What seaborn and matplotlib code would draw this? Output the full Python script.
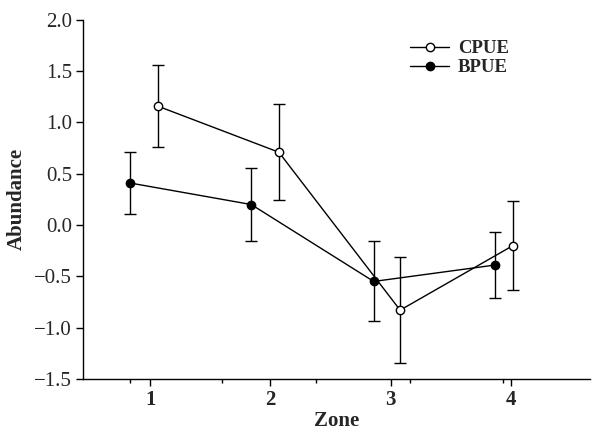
import numpy as np
import pandas as pd
import seaborn as sns
import matplotlib.pyplot as plt
from matplotlib.ticker import FixedLocator

# data
zones = [1, 2, 3, 4]
cpue_x = [1.06, 2.07, 3.08, 4.02]
cpue = [1.16, 0.71, -0.83, -0.20]
cpue_err = [0.40, 0.47, 0.52, 0.43]
bpue_x = [0.83, 1.84, 2.86, 3.87]
bpue = [0.41, 0.20, -0.55, -0.39]
bpue_err = [0.30, 0.355, 0.39, 0.32]

sns.set_style("ticks")
plt.rcParams['font.family'] = ['Liberation Serif', 'DejaVu Serif']

fig = plt.figure(figsize=(5.94, 4.33), dpi=100)
ax = fig.add_axes([0.140, 0.125, 0.853, 0.829])

df_c = pd.DataFrame({'x': cpue_x, 'y': cpue})
df_b = pd.DataFrame({'x': bpue_x, 'y': bpue})

ax.errorbar(cpue_x, cpue, yerr=cpue_err, fmt='none', ecolor='black',
            elinewidth=1.0, capsize=4, capthick=1.0, zorder=2)
ax.errorbar(bpue_x, bpue, yerr=bpue_err, fmt='none', ecolor='black',
            elinewidth=1.0, capsize=4, capthick=1.0, zorder=2)

sns.lineplot(data=df_c, x='x', y='y', ax=ax, color='black', linewidth=1.0,
             marker='o', markersize=6, markerfacecolor='white',
             markeredgecolor='black', markeredgewidth=1.0, label='CPUE',
             sort=False, zorder=3)
sns.lineplot(data=df_b, x='x', y='y', ax=ax, color='black', linewidth=1.0,
             marker='o', markersize=6, markerfacecolor='black',
             markeredgecolor='black', markeredgewidth=1.0, label='BPUE',
             sort=False, zorder=3)

ax.set_xlim(0.44, 4.66)
ax.set_ylim(-1.5, 2.0)
ax.set_xticks(zones)
ax.set_xticklabels([str(z) for z in zones], fontweight='bold', fontsize=15)
ax.xaxis.set_minor_locator(FixedLocator([0.83, 1.6, 2.38, 3.16, 3.94]))
yt = np.arange(-1.5, 2.01, 0.5)
ax.set_yticks(yt)
ax.set_yticklabels([f"{v:.1f}".replace('-', '\u2212') for v in yt], fontsize=15)
ax.tick_params(axis='both', which='major', direction='out', length=5, width=1.0,
               color='black', pad=3)
ax.tick_params(axis='x', which='minor', direction='out', length=3, width=1.0, color='black')

ax.set_xlabel('Zone', fontweight='bold', fontsize=15, labelpad=1)
ax.set_ylabel('Abundance', fontweight='bold', fontsize=15, labelpad=5)

for s in ['top', 'right']:
    ax.spines[s].set_visible(False)
for s in ['left', 'bottom']:
    ax.spines[s].set_linewidth(1.0)
    ax.spines[s].set_color('black')

leg = ax.legend(loc='upper left', bbox_to_anchor=(410 / 594, 1 - 40 / 433),
                bbox_transform=fig.transFigure, frameon=False,
                prop={'weight': 'bold', 'size': 13.5}, handlelength=2.1,
                handletextpad=0.45, labelspacing=0.12, borderpad=0,
                borderaxespad=0)

fig.savefig('out.png', dpi=100)
